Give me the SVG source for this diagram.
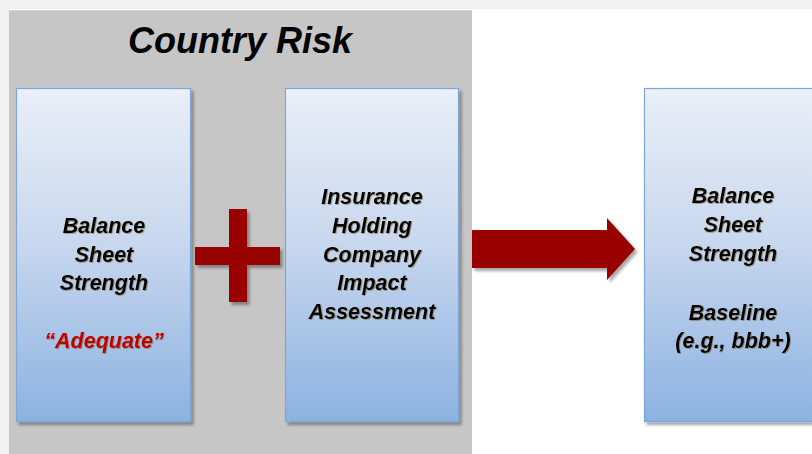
<svg xmlns="http://www.w3.org/2000/svg" width="812" height="454" viewBox="0 0 812 454">
  <defs>
    <linearGradient id="boxGrad" x1="0" y1="0" x2="0" y2="1">
      <stop offset="0" stop-color="#eaeff8"/>
      <stop offset="0.45" stop-color="#c9d8ee"/>
      <stop offset="1" stop-color="#8cb2e1"/>
    </linearGradient>
    <filter id="shadow" x="-10%" y="-10%" width="130%" height="130%">
      <feDropShadow dx="2.5" dy="3" stdDeviation="1.5" flood-color="#000" flood-opacity="0.35"/>
    </filter>
    <filter id="tshadow" x="-10%" y="-20%" width="130%" height="150%">
      <feDropShadow dx="0.8" dy="0.8" stdDeviation="0.4" flood-color="#6b5a2a" flood-opacity="0.6"/>
    </filter>
  </defs>
  <style>
    .box { fill: url(#boxGrad); stroke: #7ea6d9; stroke-width: 1.2; filter: url(#shadow); }
    .lbl { font-family: "Liberation Sans", Arial, sans-serif; font-size: 21.5px; font-weight: bold; font-style: italic; fill: #000; text-anchor: middle; filter: url(#tshadow); }
    .red { fill: #c00000; }
    .title { font-family: "Liberation Sans", Arial, sans-serif; font-size: 36px; font-weight: bold; font-style: italic; fill: #000; text-anchor: middle; }
    .mark { fill: #990000; filter: url(#shadow); }
  </style>

  <rect x="0" y="0" width="812" height="454" fill="#ffffff"/>
  <rect x="0" y="0" width="812" height="9" fill="#f1f1f1"/>
  <rect x="0" y="0" width="9" height="454" fill="#f1f1f1"/>

  <g id="country-risk">
    <rect x="9" y="10" width="463" height="444" fill="#c6c6c6"/>
    <line x1="9" y1="10.5" x2="472" y2="10.5" stroke="#d4d4d4" stroke-width="1"/>
    <text class="title" x="240" y="53">Country Risk</text>
  </g>

  <g id="balance-sheet">
    <rect class="box" x="16.5" y="88.5" width="174" height="333"/>
    <text class="lbl" x="104" y="233">Balance</text>
    <text class="lbl" x="104" y="262">Sheet</text>
    <text class="lbl" x="104" y="290">Strength</text>
    <text class="lbl red" x="104" y="348">“Adequate”</text>
  </g>

  <g id="plus">
    <path class="mark" d="M229 209 H247 V247 H280 V265 H247 V302 H229 V265 H195 V247 H229 Z"/>
  </g>

  <g id="holding-company">
    <rect class="box" x="285.5" y="88.5" width="173" height="333"/>
    <text class="lbl" x="372" y="204">Insurance</text>
    <text class="lbl" x="372" y="233">Holding</text>
    <text class="lbl" x="372" y="262">Company</text>
    <text class="lbl" x="372" y="290">Impact</text>
    <text class="lbl" x="372" y="319">Assessment</text>
  </g>

  <g id="connectors">
    <path class="mark" d="M472 230 H607 V218 L635 249 L607 280 V268 H472 Z"/>
  </g>

  <g id="baseline">
    <rect class="box" x="644.5" y="88.5" width="178" height="333"/>
    <text class="lbl" x="733" y="203">Balance</text>
    <text class="lbl" x="733" y="232">Sheet</text>
    <text class="lbl" x="733" y="261">Strength</text>
    <text class="lbl" x="733" y="320">Baseline</text>
    <text class="lbl" x="733" y="348">(e.g., bbb+)</text>
  </g>
</svg>
